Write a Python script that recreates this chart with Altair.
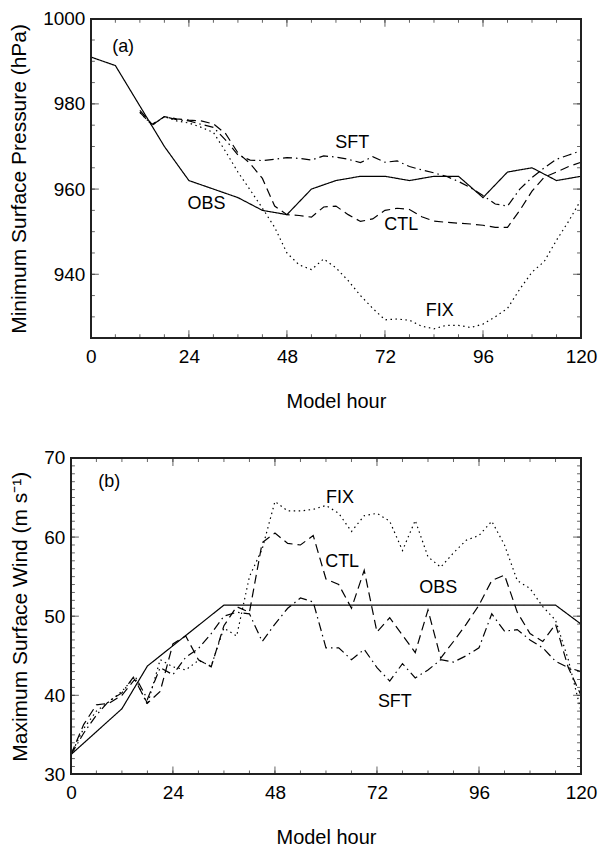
import altair as alt
import pandas as pd

FONT = "Liberation Sans"
INK = "#222222"

# ---------------- Panel (a): minimum surface pressure ----------------
obs_a_hours = [0, 6, 18, 24, 36, 42, 48, 54, 60, 66, 72, 78, 84, 90, 96, 102, 108, 114, 120]
obs_a_vals = [991, 989, 970, 962, 958, 955, 954, 960, 962, 963, 963, 962, 963, 963, 958, 964, 965, 962, 963]

model_a_hours = [12, 15, 18, 21, 24, 27, 30, 33, 36, 39, 42, 45, 48, 51, 54, 57, 60, 63, 66, 69,
                 72, 75, 78, 81, 84, 87, 90, 93, 96, 99, 102, 105, 108, 111, 114, 117, 120]
ctl_a = [978.5, 975.2, 977.0, 976.5, 976.2, 976.0, 975.3, 973.0, 968.5, 966.0,
         962.5, 956.0, 954.0, 953.8, 953.4, 955.8, 956.0, 954.0, 952.4, 953.0,
         955.0, 955.5, 955.2, 953.5, 952.5, 952.2, 952.0, 951.8, 951.5, 951.0,
         951.0, 955.0, 959.5, 962.8, 964.0, 965.3, 966.3]
sft_a = [978.0, 975.0, 977.0, 976.3, 976.0, 975.2, 974.5, 971.5, 968.0, 966.8,
         966.7, 967.0, 967.4, 967.2, 966.8, 967.8, 967.5, 967.0, 966.2, 967.6,
         966.3, 966.6, 965.3, 964.5, 963.8, 963.0, 961.8, 960.3, 958.5, 956.5,
         956.0, 960.0, 962.7, 965.0, 967.0, 968.0, 969.0]
fix_a = [978.0, 975.0, 977.0, 976.0, 975.5, 974.5, 973.3, 968.8, 964.0, 959.8,
         955.5, 951.0, 945.0, 942.2, 941.1, 943.6, 941.5, 938.5, 935.0, 932.0,
         929.3, 929.5, 929.2, 927.8, 927.2, 928.0, 928.0, 927.5, 928.3, 930.0,
         932.0, 936.5, 940.5, 943.0, 948.0, 952.5, 957.5]

ann_a_text = ["(a)", "OBS", "SFT", "CTL", "FIX"]
ann_a_hours = [7.9, 28.3, 64.0, 76.0, 85.4]
ann_a_vals = [993.3, 956.5, 970.7, 951.5, 931.3]

y_dom_a = [925, 1000]
y_labels_a = [940, 960, 980, 1000]
y_minor_a = [925, 930, 935, 940, 945, 950, 955, 960, 965, 970, 975, 980, 985, 990, 995, 1000]

# ---------------- Panel (b): maximum surface wind ----------------
obs_b_hours = [0, 12, 18, 36, 114, 120]
obs_b_vals = [32.5, 38.3, 43.7, 51.4, 51.4, 49.0]

model_b_hours = [0, 3, 6, 9, 12, 15, 18, 21, 24, 27, 30, 33, 36, 39, 42, 45, 48, 51, 54, 57,
                 60, 63, 66, 69, 72, 75, 78, 81, 84, 87, 90, 93, 96, 99, 102, 105, 108, 111,
                 114, 117, 120]
fix_b = [32.5, 35.8, 38.0, 39.2, 40.5, 42.3, 38.8, 44.5, 43.6, 43.2,
         44.4, 43.7, 48.5, 47.5, 55.0, 58.5, 64.5, 63.3, 63.3, 63.5,
         64.0, 63.0, 60.7, 62.7, 63.0, 62.0, 58.3, 62.1, 57.5, 56.2,
         58.0, 59.6, 60.2, 62.0, 59.0, 54.5, 53.5, 51.2, 49.5, 44.5, 38.0]
ctl_b = [32.5, 36.3, 38.8, 39.0, 40.0, 42.0, 39.0, 40.5, 46.5, 47.5,
         44.5, 43.6, 48.8, 51.2, 50.5, 59.3, 60.5, 59.2, 59.0, 60.2,
         54.7, 54.0, 51.0, 55.8, 48.0, 49.8, 47.6, 45.4, 50.8, 44.7,
         46.8, 49.0, 51.4, 54.5, 55.2, 50.5, 47.8, 46.8, 49.0, 43.5, 40.0]
sft_b = [32.5, 35.2, 37.5, 39.3, 40.3, 42.5, 39.5, 43.5, 42.6, 44.8,
         45.9, 47.8, 50.0, 50.5, 50.3, 46.8, 49.0, 51.0, 52.3, 51.8,
         46.0, 46.0, 44.5, 45.8, 43.5, 41.8, 44.0, 42.2, 43.2, 44.5,
         44.2, 45.0, 46.0, 50.3, 48.1, 48.3, 47.0, 46.0, 44.3, 43.5, 43.0]

ann_b_text = ["(b)", "FIX", "CTL", "OBS", "SFT"]
ann_b_hours = [9.0, 63.3, 63.8, 86.4, 76.2]
ann_b_vals = [66.9, 64.9, 56.8, 53.5, 39.2]

y_dom_b = [30, 70]
y_labels_b = [30, 40, 50, 60, 70]
y_minor_b = list(range(30, 71))

# ---------------- shared x axis ----------------
x_dom = [0, 120]
x_major = [0, 24, 48, 72, 96, 120]
x_minor = [0, 6, 12, 18, 24, 30, 36, 42, 48, 54, 60, 66, 72, 78, 84, 90, 96, 102, 108, 114, 120]

series_order = ["OBS", "CTL", "SFT", "FIX"]
dash_range = [[1, 0], [9, 5], [9, 4, 1.5, 4], [1.5, 3.5]]

MAJOR_LEN = 8
MINOR_LEN = 4


def long_df(obs_h, obs_v, mod_h, ctl, sft, fix):
    rows = []
    for h, v in zip(obs_h, obs_v):
        rows.append({"series": "OBS", "hour": h, "value": v})
    for name, vals in (("CTL", ctl), ("SFT", sft), ("FIX", fix)):
        for h, v in zip(mod_h, vals):
            rows.append({"series": name, "hour": h, "value": v})
    return pd.DataFrame(rows)


def edge_ticks(vals, xs, ys, xax, yax, edge, length, ydom):
    data = pd.DataFrame({"hour": vals, "value": vals})
    if edge in ("top", "bottom"):
        yv = ydom[1] if edge == "top" else ydom[0]
        off = length / 2 if edge == "top" else -length / 2
        return alt.Chart(data).mark_tick(orient="vertical", size=length, thickness=1,
                                         color=INK, yOffset=off).encode(
            x=alt.X("hour:Q", scale=xs, axis=xax),
            y=alt.YDatum(yv, type="quantitative", scale=ys, axis=yax),
        )
    xv = x_dom[0] if edge == "left" else x_dom[1]
    off = length / 2 if edge == "left" else -length / 2
    return alt.Chart(data).mark_tick(orient="horizontal", size=length, thickness=1,
                                     color=INK, xOffset=off).encode(
        x=alt.XDatum(xv, type="quantitative", scale=xs, axis=xax),
        y=alt.Y("value:Q", scale=ys, axis=yax),
    )


def panel(df, ann, ydom, width, height, x_start, y_labels, y_minor, ytitle):
    xs = alt.Scale(domain=x_dom, range=[x_start, width], nice=False, zero=False)
    ys = alt.Scale(domain=ydom, nice=False, zero=False)
    xax = alt.Axis(orient="bottom", values=x_major, format="d", ticks=False,
                   tickSize=0, domain=False, grid=False, labelFontSize=19,
                   labelFont=FONT, labelColor="black", labelPadding=9,
                   labelFlush=False, labelOverlap=False,
                   title="Model hour", titleFont=FONT, titleFontSize=20,
                   titleFontWeight="normal", titleColor="black", titlePadding=25)
    yax = alt.Axis(orient="left", offset=-x_start, values=y_labels, format="d",
                   ticks=False, tickSize=0, domain=False, grid=False,
                   labelFontSize=19, labelFont=FONT, labelColor="black",
                   labelPadding=6, labelOverlap=False,
                   title=ytitle, titleFont=FONT, titleFontSize=21,
                   titleFontWeight="normal", titleColor="black", titlePadding=13)
    lines = alt.Chart(df).mark_line(color="black", strokeWidth=1.2).encode(
        x=alt.X("hour:Q", scale=xs, axis=xax),
        y=alt.Y("value:Q", scale=ys, axis=yax),
        strokeDash=alt.StrokeDash("series:N",
                                  scale=alt.Scale(domain=series_order, range=dash_range),
                                  legend=None),
        detail="series:N",
    )
    frame = alt.Chart(df).mark_rect(filled=False, stroke=INK, strokeWidth=1.2).encode(
        x=alt.XDatum(x_dom[0], type="quantitative", scale=xs, axis=xax),
        x2=alt.X2Datum(x_dom[1]),
        y=alt.YDatum(ydom[0], type="quantitative", scale=ys, axis=yax),
        y2=alt.Y2Datum(ydom[1]),
    )
    texts = alt.Chart(ann).mark_text(font=FONT, fontSize=18, color="black",
                                     align="center", baseline="middle").encode(
        x=alt.X("hour:Q", scale=xs, axis=xax),
        y=alt.Y("value:Q", scale=ys, axis=yax),
        text="label:N",
    )
    layers = [lines, texts, frame]
    for edge in ("top", "bottom"):
        layers.append(edge_ticks(x_major, xs, ys, xax, yax, edge, MAJOR_LEN, ydom))
        layers.append(edge_ticks(x_minor, xs, ys, xax, yax, edge, MINOR_LEN, ydom))
    for edge in ("left", "right"):
        layers.append(edge_ticks(y_labels, xs, ys, xax, yax, edge, MAJOR_LEN, ydom))
        layers.append(edge_ticks(y_minor, xs, ys, xax, yax, edge, MINOR_LEN, ydom))
    return alt.layer(*layers).properties(width=width, height=height)


df_a = long_df(obs_a_hours, obs_a_vals, model_a_hours, ctl_a, sft_a, fix_a)
df_b = long_df(obs_b_hours, obs_b_vals, model_b_hours, ctl_b, sft_b, fix_b)
ann_a = pd.DataFrame({"label": ann_a_text, "hour": ann_a_hours, "value": ann_a_vals})
ann_b = pd.DataFrame({"label": ann_b_text, "hour": ann_b_hours, "value": ann_b_vals})

PANEL_W = 511
pa = panel(df_a, ann_a, y_dom_a, PANEL_W, 320, 20, y_labels_a, y_minor_a,
           "Minimum Surface Pressure (hPa)")
pb = panel(df_b, ann_b, y_dom_b, PANEL_W, 317, 0, y_labels_b, y_minor_b,
           "Maximum Surface Wind (m s\u207b\u00b9)")

chart = alt.vconcat(pa, pb, spacing=36).properties(
    padding={"left": 0, "top": 0, "right": 0, "bottom": 0},
    background="white",
).configure_view(stroke="transparent")

chart.save("out.html", embed_options={"renderer": "svg", "actions": False})
